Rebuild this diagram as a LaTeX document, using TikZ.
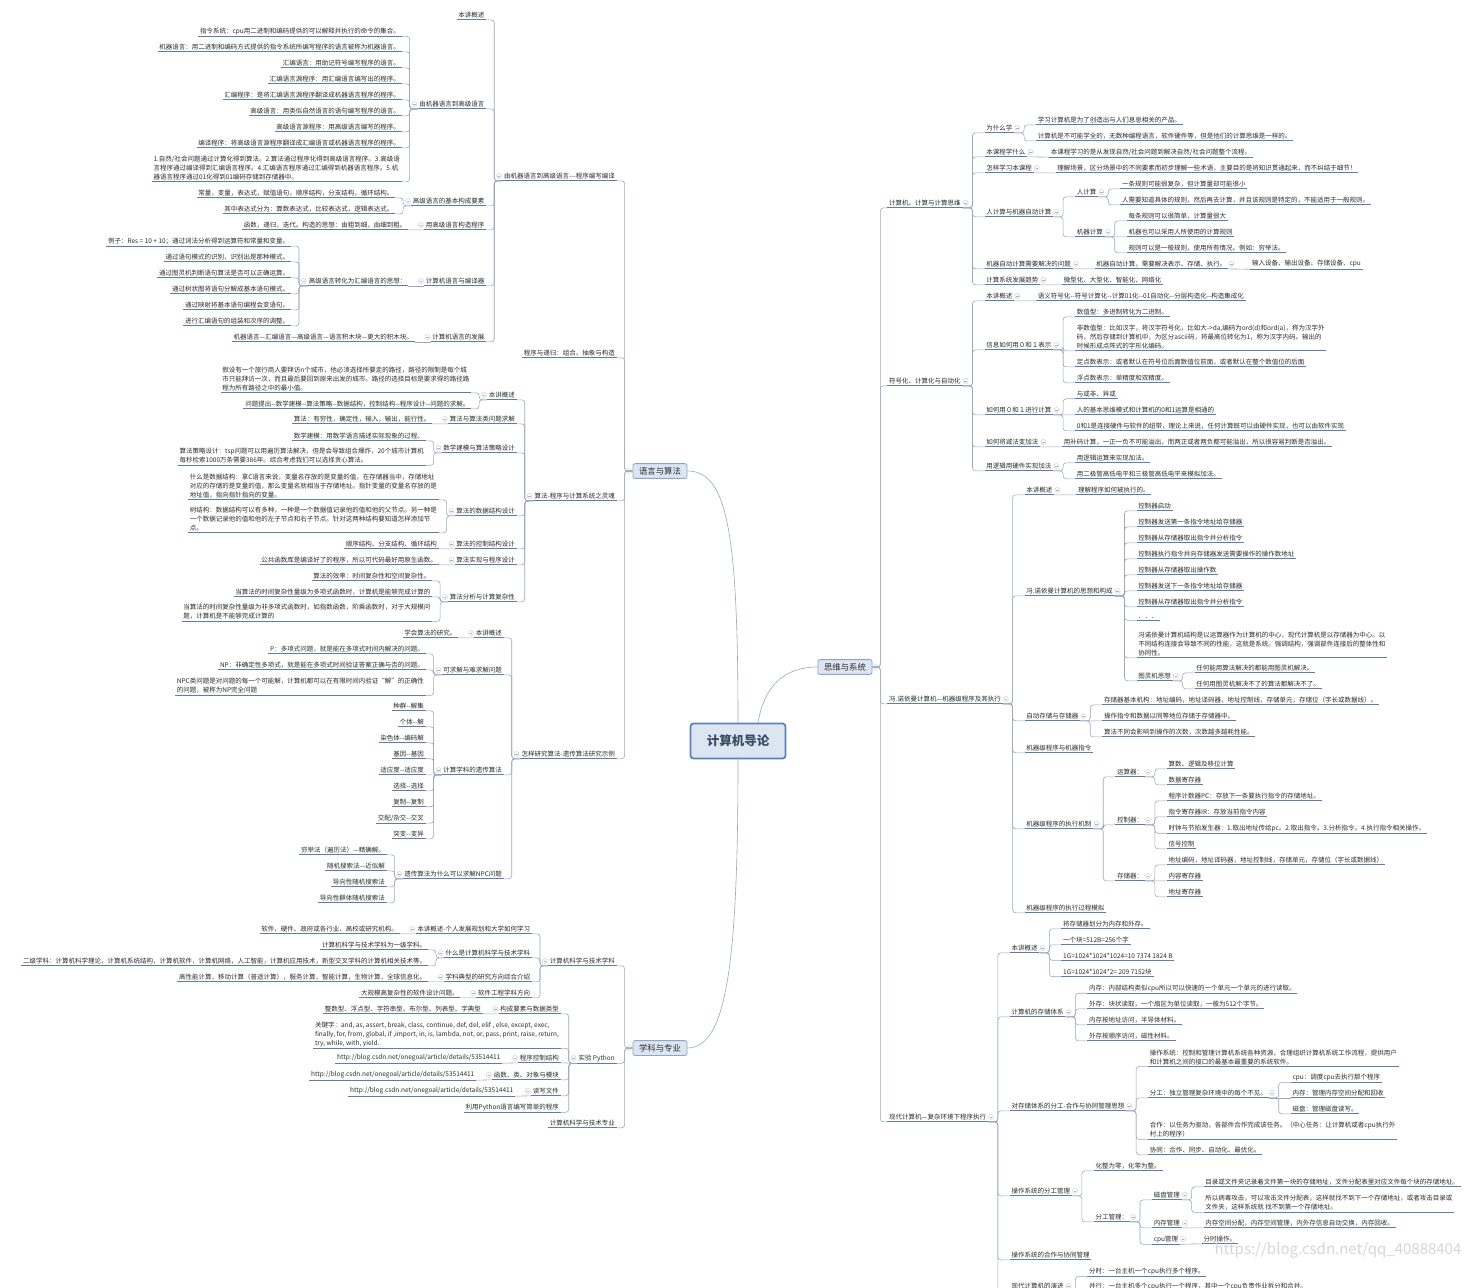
\documentclass[tikz,border=0pt]{standalone}
\usepackage{fontspec}
\newfontfamily\cjk[Ligatures=TeXOff]{Noto Sans CJK SC}
\usetikzlibrary{positioning}

\definecolor{txt}{HTML}{2B2B2B}
\definecolor{ulc}{HTML}{5E7CA8}
\definecolor{brc}{HTML}{9AA8BE}
\definecolor{boxf}{HTML}{DCE6F2}
\definecolor{boxc}{HTML}{8DA5C9}
\definecolor{rootc}{HTML}{5A82B6}
\definecolor{roott}{HTML}{3A4C63}

\tikzset{
  every node/.style={text=txt,font=\cjk\fontsize{6.5}{9}\selectfont},
  ul/.style={draw=ulc,line width=0.9pt},
  lt/.style={anchor=east,inner sep=1.6pt,align=left,
    append after command={(\tikzlastnode.south west) edge[ul] (\tikzlastnode.south east)}},
  rt/.style={anchor=west,inner sep=1.6pt,align=left,
    append after command={(\tikzlastnode.south west) edge[ul] (\tikzlastnode.south east)}},
  br/.style={draw=brc,line width=0.6pt,rounded corners=3pt},
  fold/.style={circle,draw=gray!45,fill=white,minimum size=5pt,inner sep=0pt,label distance=0.5pt,
    path picture={\draw[gray!60,line width=0.4pt]
      ([xshift=1.2pt]path picture bounding box.west) -- ([xshift=-1.2pt]path picture bounding box.east);}},
  foldL/.style={label={[fold]180:}},
  foldR/.style={label={[fold]0:}},
  lvone/.style={draw=boxc,fill=boxf,rounded corners=2pt,line width=0.8pt,
    font=\cjk\fontsize{8.4}{10}\selectfont,inner xsep=6pt,inner ysep=3.5pt},
  rootbox/.style={draw=rootc,fill=boxf,line width=1.8pt,rounded corners=3pt,text=roott,
    font=\cjk\bfseries\fontsize{12.5}{14}\selectfont,minimum width=95pt,minimum height=35pt},
}

\begin{document}
\begin{tikzpicture}[x=1pt,y=-1pt]
\useasboundingbox (0,0) rectangle (1468,1288);
\fill[white] (0,0) rectangle (1468,1288);

% 中心主题
\node[rootbox] (root) at (738,741) {计算机导论};
\node[lvone,foldL] (LA) at (660,471) {语言与算法};
\node[lvone,foldR] (SS) at (845,667) {思维与系统};
\node[lvone,foldL] (XK) at (660,1048) {学科与专业};
\draw[br] (root.north) .. controls +(0,-190) and +(40,0) .. (LA.east);
\draw[br] ([xshift=20pt]root.north) .. controls +(6,-35) and +(-35,0) .. (SS.west);
\draw[br] (root.south) .. controls +(0,200) and +(40,0) .. (XK.east);

% ---------------- 语言与算法 ----------------
\node[lt,foldL] (la1) at ([xshift=-16pt]LA.west |- 0,176) {由机器语言到高级语言---程序编写编译};
\node[lt] (la2) at ([xshift=-16pt]LA.west |- 0,353) {程序与递归：组合、抽象与构造};
\node[lt,foldL] (la3) at ([xshift=-16pt]LA.west |- 0,496) {算法-程序与计算系统之灵魂};
\node[lt,foldL] (la4) at ([xshift=-16pt]LA.west |- 0,754) {怎样研究算法-遗传算法研究示例};
\foreach \c in {la1,la2,la3,la4}
  \draw[br] (LA.west) -- ++(-8pt,0) |- (\c.south east);

\node[lt] (la1a) at ([xshift=-16pt]la1.west |- 0,15) {本讲概述};
\node[lt,foldL] (la1b) at ([xshift=-16pt]la1.west |- 0,104) {由机器语言到高级语言};
\node[lt,foldL] (la1c) at ([xshift=-16pt]la1.west |- 0,201) {高级语言的基本构成要素};
\node[lt,foldL] (la1d) at ([xshift=-16pt]la1.west |- 0,225) {用高级语言构造程序};
\node[lt,foldL] (la1e) at ([xshift=-16pt]la1.west |- 0,281) {计算机语言与编译器};
\node[lt,foldL] (la1f) at ([xshift=-16pt]la1.west |- 0,337) {计算机语言的发展};
\foreach \c in {la1a,la1b,la1c,la1d,la1e,la1f}
  \draw[br] (la1.south west) -- ++(-8pt,0) |- (\c.south east);

\foreach \t [count=\i] in {指令系统：cpu用二进制和编码提供的可以解释并执行的命令的集合。,
    机器语言：用二进制和编码方式提供的指令系统所编写程序的语言被称为机器语言。,
    汇编语言：用助记符号编写程序的语言。,
    汇编语言源程序：用汇编语言编写出的程序。,
    汇编程序：是将汇编语言源程序翻译成机器语言程序的程序。,
    高级语言：用类似自然语言的语句编写程序的语言。,
    高级语言源程序：用高级语言编写的程序。,
    编译程序：将高级语言源程序翻译成汇编语言或机器语言程序的程序。}
  \node[lt] (la1b\i) at ([xshift=-16pt]la1b.west |- 0,{15+16*\i}) {\t};
\node[lt] (la1b9) at ([xshift=-16pt]la1b.west |- 0,168)
  {1.自然/社会问题通过计算化得到算法。2.算法通过程序化得到高级语言程序。3.高级语\\
   言程序通过编译得到汇编语言程序。4.汇编语言程序通过汇编得到机器语言程序。5.机\\
   器语言程序通过01化得到01编码存储到存储器中。};
\foreach \i in {1,...,9}
  \draw[br] (la1b.south west) -- ++(-8pt,0) |- (la1b\i.south east);

\node[lt] (la1c1) at ([xshift=-16pt]la1c.west |- 0,193) {常量，变量，表达式，赋值语句，顺序结构，分支结构，循环结构。};
\node[lt] (la1c2) at ([xshift=-16pt]la1c.west |- 0,209) {其中表达式分为：算数表达式，比较表达式，逻辑表达式。};
\foreach \c in {la1c1,la1c2}
  \draw[br] (la1c.south west) -- ++(-8pt,0) |- (\c.south east);
\node[lt] (la1d1) at ([xshift=-16pt]la1d.west |- 0,225) {函数，递归，迭代。构造的思想：由粗到细，由细到粗。};
\node[lt,foldL] (la1e1) at ([xshift=-16pt]la1e.west |- 0,281) {高级语言转化为汇编语言的思想：};
\foreach \t [count=\i] in {例子：Res = 10 + 10；通过词法分析得到运算符和常量和变量。,
    通过语句模式的识别，识别出是那种模式。,
    通过图灵机判断语句算法是否可以正确运算。,
    通过树状图将语句分解成基本语句模式。,
    通过映射将基本语句编程会变语句。,
    进行汇编语句的组装和次序的调整。}
  \node[lt] (la1e1\i) at ([xshift=-16pt]la1e1.west |- 0,{225+16*\i}) {\t};
\foreach \i in {1,...,6}
  \draw[br] (la1e1.south west) -- ++(-8pt,0) |- (la1e1\i.south east);
\node[lt] (la1f1) at ([xshift=-16pt]la1f.west |- 0,337) {机器语言—汇编语言—高级语言—语言积木块—更大的积木块。};

% 算法-程序与计算系统之灵魂
\node[lt,foldL] (la3a) at ([xshift=-16pt]la3.west |- 0,395) {本讲概述};
\node[lt,foldL] (la3b) at ([xshift=-16pt]la3.west |- 0,419) {算法与算法类问题求解};
\node[lt,foldL] (la3c) at ([xshift=-16pt]la3.west |- 0,448) {数学建模与算法策略设计};
\node[lt,foldL] (la3d) at ([xshift=-16pt]la3.west |- 0,511) {算法的数据结构设计};
\node[lt,foldL] (la3e) at ([xshift=-16pt]la3.west |- 0,544) {算法的控制结构设计};
\node[lt,foldL] (la3f) at ([xshift=-16pt]la3.west |- 0,560) {算法实现与程序设计};
\node[lt,foldL] (la3g) at ([xshift=-16pt]la3.west |- 0,597) {算法分析与计算复杂性};
\foreach \c in {la3a,la3b,la3c,la3d,la3e,la3f,la3g}
  \draw[br] (la3.south west) -- ++(-8pt,0) |- (\c.south east);

\node[lt] (la3a1) at ([xshift=-16pt]la3a.west |- 0,379)
  {假设有一个旅行商人要拜访n个城市，他必须选择所要走的路径，路径的限制是每个城\\
   市只能拜访一次，而且最后要回到原来出发的城市。路径的选择目标是要求得的路径路\\
   程为所有路径之中的最小值。};
\node[lt] (la3a2) at ([xshift=-16pt]la3a.west |- 0,404) {问题提出--数学建模--算法策略--数据结构，控制结构--程序设计--问题的求解。};
\node[lt] (la3b1) at ([xshift=-16pt]la3b.west |- 0,419) {算法：有穷性，确定性，输入，输出，能行性。};
\node[lt] (la3c1) at ([xshift=-16pt]la3c.west |- 0,436) {数学建模：用数学语言描述实际现象的过程。};
\node[lt] (la3c2) at ([xshift=-16pt]la3c.west |- 0,456)
  {算法策略设计：tsp问题可以用遍历算法解决，但是会导致组合爆炸，20个城市计算机\\
   每秒检索1000万条需要386年。综合考虑我们可以选择贪心算法。};
\node[lt] (la3d1) at ([xshift=-16pt]la3d.west |- 0,486)
  {什么是数据结构：拿C语言来说，变量名存放的是变量的值，在存储器当中，存储地址\\
   对应的存储的是变量的值，那么变量名就相当于存储地址。指针变量的变量名存放的是\\
   地址值，指向指针指向的变量。};
\node[lt] (la3d2) at ([xshift=-16pt]la3d.west |- 0,519)
  {树结构：数据结构可以有多种，一种是一个数据值记录他的值和他的父节点。另一种是\\
   一个数据记录他的值和他的左子节点和右子节点。针对这两种结构要知道怎样添加节\\
   点。};
\node[lt] (la3e1) at ([xshift=-16pt]la3e.west |- 0,544) {顺序结构、分支结构、循环结构};
\node[lt] (la3f1) at ([xshift=-16pt]la3f.west |- 0,560) {公共函数库是编译好了的程序，所以可代码最好用原生函数。};
\node[lt] (la3g1) at ([xshift=-16pt]la3g.west |- 0,576) {算法的效率：时间复杂性和空间复杂性。};
\node[lt] (la3g2) at ([xshift=-16pt]la3g.west |- 0,592) {当算法的时间复杂性量级为多项式函数时，计算机是能够完成计算的};
\node[lt] (la3g3) at ([xshift=-16pt]la3g.west |- 0,612)
  {当算法的时间复杂性量级为非多项式函数时，如指数函数，阶乘函数时，对于大规模问\\
   题，计算机是不能够完成计算的};
\foreach \p/\c in {la3a/la3a1,la3a/la3a2,la3c/la3c1,la3c/la3c2,la3d/la3d1,la3d/la3d2,
    la3g/la3g1,la3g/la3g2,la3g/la3g3}
  \draw[br] (\p.south west) -- ++(-8pt,0) |- (\c.south east);

% 怎样研究算法
\node[lt,foldL] (la4a) at ([xshift=-16pt]la4.west |- 0,633) {本讲概述};
\node[lt,foldL] (la4b) at ([xshift=-16pt]la4.west |- 0,670) {可求解与难求解问题};
\node[lt,foldL] (la4c) at ([xshift=-16pt]la4.west |- 0,770) {计算学科的遗传算法};
\node[lt,foldL] (la4d) at ([xshift=-16pt]la4.west |- 0,874) {遗传算法为什么可以求解NPC问题};
\foreach \c in {la4a,la4b,la4c,la4d}
  \draw[br] (la4.south west) -- ++(-8pt,0) |- (\c.south east);
\node[lt] (la4a1) at ([xshift=-16pt]la4a.west |- 0,633) {学会算法的研究。};
\node[lt] (la4b1) at ([xshift=-16pt]la4b.west |- 0,649) {P：多项式问题，就是能在多项式时间内解决的问题。};
\node[lt] (la4b2) at ([xshift=-16pt]la4b.west |- 0,665) {NP：非确定性多项式，就是能在多项式时间验证答案正确与否的问题。};
\node[lt] (la4b3) at ([xshift=-16pt]la4b.west |- 0,686)
  {NPC类问题是对问题的每一个可能解，计算机都可以在有限时间内验证“解”的正确性\\
   的问题，被称为NP完全问题};
\foreach \c in {la4b1,la4b2,la4b3}
  \draw[br] (la4b.south west) -- ++(-8pt,0) |- (\c.south east);
\foreach \t [count=\i] in {种群--解集,个体--解,染色体--编码解,基因--基因,适应度--适应度,
    选择--选择,复制--复制,交配/杂交--交叉,突变--变异}
  \node[lt] (la4c\i) at ([xshift=-16pt]la4c.west |- 0,{690+16*\i}) {\t};
\foreach \i in {1,2,3,4,6,7,8,9}
  \draw[br] (la4c.south west) -- ++(-8pt,0) |- (la4c\i.south east);
\foreach \t [count=\i] in {穷举法（遍历法）—精确解。,随机搜索法—近似解,导向性随机搜索法,导向性群体随机搜索法}
  \node[lt] (la4d\i) at ([xshift=-16pt]la4d.west |- 0,{834+16*\i}) {\t};
\foreach \i in {1,...,4}
  \draw[br] (la4d.south west) -- ++(-8pt,0) |- (la4d\i.south east);

% ---------------- 学科与专业 ----------------
\node[lt,foldL] (xk1) at ([xshift=-16pt]XK.west |- 0,961) {计算机科学与技术学科};
\node[lt,foldL] (xk2) at ([xshift=-16pt]XK.west |- 0,1058) {实验 Python};
\node[lt] (xk3) at ([xshift=-16pt]XK.west |- 0,1123) {计算机科学与技术专业};
\foreach \c in {xk1,xk2,xk3}
  \draw[br] (XK.west) -- ++(-8pt,0) |- (\c.south east);

\node[lt,foldL] (xk1a) at ([xshift=-16pt]xk1.west |- 0,929) {本讲概述-个人发展规划和大学如何学习};
\node[lt,foldL] (xk1b) at ([xshift=-16pt]xk1.west |- 0,953) {什么是计算机科学与技术学科};
\node[lt,foldL] (xk1c) at ([xshift=-16pt]xk1.west |- 0,977) {学科典型的研究方向综合介绍};
\node[lt,foldL] (xk1d) at ([xshift=-16pt]xk1.west |- 0,993) {软件工程学科方向};
\foreach \c in {xk1a,xk1b,xk1c,xk1d}
  \draw[br] (xk1.south west) -- ++(-8pt,0) |- (\c.south east);
\node[lt] (xk1a1) at ([xshift=-16pt]xk1a.west |- 0,929) {软件、硬件、政府或各行业、高校或研究机构。};
\node[lt] (xk1b1) at ([xshift=-16pt]xk1b.west |- 0,945) {计算机科学与技术学科为一级学科。};
\node[lt] (xk1b2) at ([xshift=-16pt]xk1b.west |- 0,961) {二级学科：计算机科学理论，计算机系统结构，计算机软件，计算机网络，人工智能，计算机应用技术，新型交叉学科的计算机相关技术等。};
\foreach \c in {xk1b1,xk1b2}
  \draw[br] (xk1b.south west) -- ++(-8pt,0) |- (\c.south east);
\node[lt] (xk1c1) at ([xshift=-16pt]xk1c.west |- 0,977) {高性能计算，移动计算（普适计算），服务计算，智能计算，生物计算，全球信息化。};
\node[lt] (xk1d1) at ([xshift=-16pt]xk1d.west |- 0,993) {大规模高复杂性的软件设计问题。};

\node[lt,foldL] (xk2a) at ([xshift=-16pt]xk2.west |- 0,1009) {构成要素与数据类型};
\node[lt] (xk2b) at ([xshift=-16pt]xk2.west |- 0,1034)
  {关键字：and, as, assert, break, class, continue, def, del, elif , else, except, exec,\\
   finally, for, from, global, if ,import, in, is, lambda, not, or, pass, print, raise, return,\\
   try, while, with, yield.};
\node[lt,foldL] (xk2c) at ([xshift=-16pt]xk2.west |- 0,1058) {程序控制结构};
\node[lt,foldL] (xk2d) at ([xshift=-16pt]xk2.west |- 0,1075) {函数、类、对象与模块};
\node[lt,foldL] (xk2e) at ([xshift=-16pt]xk2.west |- 0,1091) {读写文件};
\node[lt] (xk2f) at ([xshift=-16pt]xk2.west |- 0,1107) {利用Python语言编写简单的程序};
\foreach \c in {xk2a,xk2b,xk2d,xk2e,xk2f}
  \draw[br] (xk2.south west) -- ++(-8pt,0) |- (\c.south east);
\node[lt] (xk2a1) at ([xshift=-16pt]xk2a.west |- 0,1009) {整数型、浮点型、字符串型、布尔型、列表型、字典型};
\node[lt] (xk2c1) at ([xshift=-16pt]xk2c.west |- 0,1058) {http://blog.csdn.net/onegoal/article/details/53514411};
\node[lt] (xk2d1) at ([xshift=-16pt]xk2d.west |- 0,1075) {http://blog.csdn.net/onegoal/article/details/53514411};
\node[lt] (xk2e1) at ([xshift=-16pt]xk2e.west |- 0,1091) {http://blog.csdn.net/onegoal/article/details/53514411};

% 左侧同一高度的直连
\foreach \p/\c in {la1d/la1d1,la1e/la1e1,la1f/la1f1,la3b/la3b1,la3e/la3e1,la3f/la3f1,la4a/la4a1,
    la4c/la4c5,xk1a/xk1a1,xk1c/xk1c1,xk1d/xk1d1,xk2/xk2c,xk2a/xk2a1,xk2c/xk2c1,xk2d/xk2d1,xk2e/xk2e1}
  \draw[br] (\p.south west) -- (\c.south east);

% ---------------- 思维与系统 ----------------
\node[rt,foldR] (ss1) at ([xshift=15pt]SS.east |- 0,203) {计算机、计算与计算思维};
\node[rt,foldR] (ss2) at ([xshift=15pt]SS.east |- 0,381) {符号化、计算化与自动化};
\node[rt,foldR] (ss3) at ([xshift=15pt]SS.east |- 0,699) {冯.诺依曼计算机—机器级程序及其执行};
\node[rt,foldR] (ss4) at ([xshift=15pt]SS.east |- 0,1117) {现代计算机—复杂环境下程序执行};
\foreach \c in {ss1,ss2,ss3,ss4}
  \draw[br] (SS.east) -- ++(8pt,0) |- (\c.south west);

% 计算机、计算与计算思维
\node[rt,foldR] (ss1a) at ([xshift=22pt]ss1.east |- 0,128) {为什么学};
\node[rt,foldR] (ss1b) at ([xshift=22pt]ss1.east |- 0,152) {本课程学什么};
\node[rt,foldR] (ss1c) at ([xshift=22pt]ss1.east |- 0,168) {怎样学习本课程};
\node[rt,foldR] (ss1d) at ([xshift=22pt]ss1.east |- 0,212) {人计算与机器自动计算};
\node[rt,foldR] (ss1e) at ([xshift=22pt]ss1.east |- 0,264) {机器自动计算需要解决的问题};
\node[rt,foldR] (ss1f) at ([xshift=22pt]ss1.east |- 0,280) {计算系统发展趋势};
\foreach \c in {ss1a,ss1b,ss1c,ss1d,ss1e,ss1f}
  \draw[br] (ss1.south east) -- ++(10pt,0) |- (\c.south west);
\node[rt] (ss1a1) at ([xshift=22pt]ss1a.east |- 0,120) {学习计算机是为了创造出与人们息息相关的产品。};
\node[rt] (ss1a2) at ([xshift=22pt]ss1a.east |- 0,136) {计算机是不可能学全的，无数种编程语言，软件硬件等，但是他们的计算思维是一样的。};
\node[rt] (ss1b1) at ([xshift=22pt]ss1b.east |- 0,152) {本课程学习的是从发现自然/社会问题到解决自然/社会问题整个流程。};
\node[rt] (ss1c1) at ([xshift=22pt]ss1c.east |- 0,168) {理解场景，区分场景中的不同要素而初步理解一些术语，主要目的是将知识贯通起来，而不纠结于细节！};
\node[rt,foldR] (ss1d1) at ([xshift=22pt]ss1d.east |- 0,192) {人计算};
\node[rt,foldR] (ss1d2) at ([xshift=22pt]ss1d.east |- 0,232) {机器计算};
\node[rt] (ss1d1a) at ([xshift=22pt]ss1d1.east |- 0,184) {一条规则可能很复杂，但计算量却可能很小};
\node[rt] (ss1d1b) at ([xshift=22pt]ss1d1.east |- 0,200) {人需要知道具体的规则，然后再去计算，并且该规则是特定的，不能适用于一般规则。};
\node[rt] (ss1d2a) at ([xshift=22pt]ss1d2.east |- 0,216) {每条规则可以很简单，计算量很大};
\node[rt] (ss1d2b) at ([xshift=22pt]ss1d2.east |- 0,232) {机器也可以采用人所使用的计算规则};
\node[rt] (ss1d2c) at ([xshift=22pt]ss1d2.east |- 0,248) {规则可以是一般规则，使用所有情况。例如：穷举法。};
\node[rt,foldR] (ss1e1) at ([xshift=22pt]ss1e.east |- 0,264) {机器自动计算，需要解决表示、存储、执行。};
\node[rt] (ss1e1a) at ([xshift=22pt]ss1e1.east |- 0,264) {输入设备、输出设备、存储设备、cpu};
\node[rt] (ss1f1) at ([xshift=22pt]ss1f.east |- 0,280) {微型化、大型化、智能化、网络化};
\foreach \p/\c in {ss1a/ss1a1,ss1a/ss1a2,ss1d/ss1d1,ss1d/ss1d2,ss1d1/ss1d1a,ss1d1/ss1d1b,
    ss1d2/ss1d2a,ss1d2/ss1d2c}
  \draw[br] (\p.south east) -- ++(10pt,0) |- (\c.south west);

% 符号化、计算化与自动化
\node[rt,foldR] (ss2a) at ([xshift=22pt]ss2.east |- 0,296) {本讲概述};
\node[rt,foldR] (ss2b) at ([xshift=22pt]ss2.east |- 0,345) {信息如何用０和１表示};
\node[rt,foldR] (ss2c) at ([xshift=22pt]ss2.east |- 0,410) {如何用０和１进行计算};
\node[rt,foldR] (ss2d) at ([xshift=22pt]ss2.east |- 0,442) {如何将减法变加法};
\node[rt,foldR] (ss2e) at ([xshift=22pt]ss2.east |- 0,466) {用逻辑用硬件实现加法};
\foreach \c in {ss2a,ss2b,ss2c,ss2d,ss2e}
  \draw[br] (ss2.south east) -- ++(10pt,0) |- (\c.south west);
\node[rt] (ss2a1) at ([xshift=22pt]ss2a.east |- 0,296) {语义符号化--符号计算化--计算01化--01自动化--分层构造化--构造集成化};
\node[rt] (ss2b1) at ([xshift=22pt]ss2b.east |- 0,312) {数值型：多进制转化为二进制。};
\node[rt] (ss2b2) at ([xshift=22pt]ss2b.east |- 0,337)
  {非数值型：比如汉字，将汉字符号化，比如大->da,编码为ord(d)和ord(a)，称为汉字外\\
   码，然后存储到计算机中，为区分ascii码，将最高位转化为1，称为汉字内码。输出的\\
   时候形成点阵式的字形化编码。};
\node[rt] (ss2b3) at ([xshift=22pt]ss2b.east |- 0,362) {定点数表示：或者默认在符号位后面数值位前面，或者默认在整个数值位的后面};
\node[rt] (ss2b4) at ([xshift=22pt]ss2b.east |- 0,378) {浮点数表示：单精度和双精度。};
\node[rt] (ss2c1) at ([xshift=22pt]ss2c.east |- 0,394) {与或非、异或};
\node[rt] (ss2c2) at ([xshift=22pt]ss2c.east |- 0,410) {人的基本思维模式和计算机的0和1运算是相通的};
\node[rt] (ss2c3) at ([xshift=22pt]ss2c.east |- 0,426) {0和1是连接硬件与软件的纽带，理论上来说，任何计算既可以由硬件实现，也可以由软件实现};
\node[rt] (ss2d1) at ([xshift=22pt]ss2d.east |- 0,442) {用补码计算，一正一负不可能溢出，而两正或者两负都可能溢出，所以很容易判断是否溢出。};
\node[rt] (ss2e1) at ([xshift=22pt]ss2e.east |- 0,458) {用逻辑运算来实现加法。};
\node[rt] (ss2e2) at ([xshift=22pt]ss2e.east |- 0,474) {用二极管高低电平和三极管高低电平来模拟加法。};
\foreach \p/\c in {ss2b/ss2b1,ss2b/ss2b2,ss2b/ss2b3,ss2b/ss2b4,ss2c/ss2c1,ss2c/ss2c3,
    ss2e/ss2e1,ss2e/ss2e2}
  \draw[br] (\p.south east) -- ++(10pt,0) |- (\c.south west);

% 冯.诺依曼计算机
\node[rt,foldR] (ss3a) at ([xshift=22pt]ss3.east |- 0,490) {本讲概述};
\node[rt,foldR] (ss3b) at ([xshift=22pt]ss3.east |- 0,591) {冯.诺依曼计算机的思想和构成};
\node[rt,foldR] (ss3c) at ([xshift=22pt]ss3.east |- 0,716) {自动存储与存储器};
\node[rt] (ss3d) at ([xshift=22pt]ss3.east |- 0,748) {机器级程序与机器指令};
\node[rt,foldR] (ss3e) at ([xshift=22pt]ss3.east |- 0,824) {机器级程序的执行机制};
\node[rt] (ss3f) at ([xshift=22pt]ss3.east |- 0,908) {机器级程序的执行过程模拟};
\foreach \c in {ss3a,ss3b,ss3c,ss3d,ss3e,ss3f}
  \draw[br] (ss3.south east) -- ++(10pt,0) |- (\c.south west);
\node[rt] (ss3a1) at ([xshift=22pt]ss3a.east |- 0,490) {理解程序如何被执行的。};
\foreach \t [count=\i] in {控制器启动,控制器发送第一条指令地址给存储器,控制器从存储器取出指令并分析指令,
    控制器执行指令并向存储器发送需要操作的操作数地址,控制器从存储器取出操作数,
    控制器发送下一条指令地址给存储器,控制器从存储器取出指令并分析指令,．．．}
  \node[rt] (ss3b\i) at ([xshift=22pt]ss3b.east |- 0,{490+16*\i}) {\t};
\node[rt] (ss3b9) at ([xshift=22pt]ss3b.east |- 0,644)
  {冯诺依曼计算机结构是以运算器作为计算机的中心，现代计算机是以存储器为中心。以\\
   不同结构连接会导致不同的性能，这就是系统。强调结构，强调部件连接后的整体性和\\
   协同性。};
\node[rt,foldR] (ss3b10) at ([xshift=22pt]ss3b.east |- 0,676) {图灵机思想};
\foreach \i in {1,...,10}
  \draw[br] (ss3b.south east) -- ++(10pt,0) |- (ss3b\i.south west);
\node[rt] (ss3b10a) at ([xshift=22pt]ss3b10.east |- 0,668) {任何能用算法解决的都能用图灵机解决。};
\node[rt] (ss3b10b) at ([xshift=22pt]ss3b10.east |- 0,684) {任何用图灵机解决不了的算法都解决不了。};
\node[rt] (ss3c1) at ([xshift=22pt]ss3c.east |- 0,700) {存储器基本机构：地址编码，地址译码器，地址控制线，存储单元，存储位（字长或数据线）。};
\node[rt] (ss3c2) at ([xshift=22pt]ss3c.east |- 0,716) {操作指令和数据以同等地位存储于存储器中。};
\node[rt] (ss3c3) at ([xshift=22pt]ss3c.east |- 0,732) {算法不同会影响到操作的次数，次数越多越耗性能。};
\node[rt,foldR] (ss3e1) at ([xshift=22pt]ss3e.east |- 0,772) {运算器：};
\node[rt,foldR] (ss3e2) at ([xshift=22pt]ss3e.east |- 0,820) {控制器：};
\node[rt,foldR] (ss3e3) at ([xshift=22pt]ss3e.east |- 0,876) {存储器：};
\node[rt] (ss3e1a) at ([xshift=22pt]ss3e1.east |- 0,764) {算数、逻辑及移位计算};
\node[rt] (ss3e1b) at ([xshift=22pt]ss3e1.east |- 0,780) {数据寄存器};
\node[rt] (ss3e2a) at ([xshift=22pt]ss3e2.east |- 0,796) {程序计数器PC：存放下一条要执行指令的存储地址。};
\node[rt] (ss3e2b) at ([xshift=22pt]ss3e2.east |- 0,812) {指令寄存器IR：存放当前指令内容};
\node[rt] (ss3e2c) at ([xshift=22pt]ss3e2.east |- 0,828) {时钟与节拍发生器：1.取出地址传给pc。2.取出指令。3.分析指令。4.执行指令相关操作。};
\node[rt] (ss3e2d) at ([xshift=22pt]ss3e2.east |- 0,844) {信号控制};
\node[rt] (ss3e3a) at ([xshift=22pt]ss3e3.east |- 0,860) {地址编码，地址译码器，地址控制线，存储单元，存储位（字长或数据线）};
\node[rt] (ss3e3b) at ([xshift=22pt]ss3e3.east |- 0,876) {内容寄存器};
\node[rt] (ss3e3c) at ([xshift=22pt]ss3e3.east |- 0,892) {地址寄存器};
\foreach \p/\c in {ss3b10/ss3b10a,ss3b10/ss3b10b,ss3c/ss3c1,ss3c/ss3c3,ss3e/ss3e1,ss3e/ss3e2,ss3e/ss3e3,
    ss3e1/ss3e1a,ss3e1/ss3e1b,ss3e2/ss3e2a,ss3e2/ss3e2b,ss3e2/ss3e2c,ss3e2/ss3e2d,ss3e3/ss3e3a,ss3e3/ss3e3c}
  \draw[br] (\p.south east) -- ++(10pt,0) |- (\c.south west);

% 现代计算机
\node[rt,foldR] (ss4a) at ([xshift=22pt]ss4.east |- 0,948) {本讲概述};
\node[rt,foldR] (ss4b) at ([xshift=22pt]ss4.east |- 0,1012) {计算机的存储体系};
\node[rt,foldR] (ss4c) at ([xshift=22pt]ss4.east |- 0,1106) {对存储体系的分工-合作与协同管理思想};
\node[rt,foldR] (ss4d) at ([xshift=22pt]ss4.east |- 0,1191) {操作系统的分工管理};
\node[rt] (ss4e) at ([xshift=22pt]ss4.east |- 0,1255) {操作系统的合作与协同管理};
\node[rt,foldR] (ss4f) at ([xshift=22pt]ss4.east |- 0,1286) {现代计算机的演进};
\foreach \c in {ss4a,ss4b,ss4c,ss4d,ss4e,ss4f}
  \draw[br] (ss4.south east) -- ++(10pt,0) |- (\c.south west);
\foreach \t [count=\i] in {将存储器划分为内存和外存。,一个块=512B=256个字,
    1G=1024*1024*1024=10 7374 1824 B,1G=1024*1024*2= 209 7152块}
  \node[rt] (ss4a\i) at ([xshift=22pt]ss4a.east |- 0,{908+16*\i}) {\t};
\foreach \t [count=\i] in {内存：内部结构类似cpu所以可以快速的一个单元一个单元的进行读取。,
    外存：块状读取，一个扇区为单位读取，一般为512个字节。,
    内存按地址访问，半导体材料。,外存按顺序访问，磁性材料。}
  \node[rt] (ss4b\i) at ([xshift=22pt]ss4b.east |- 0,{972+16*\i}) {\t};
\foreach \i in {1,...,4} {
  \draw[br] (ss4a.south east) -- ++(10pt,0) |- (ss4a\i.south west);
  \draw[br] (ss4b.south east) -- ++(10pt,0) |- (ss4b\i.south west);
}
\node[rt] (ss4c1) at ([xshift=22pt]ss4c.east |- 0,1057)
  {操作系统：控制和管理计算机系统各种资源，合理组织计算机系统工作流程，提供用户\\
   和计算机之间的接口的最基本最重要的系统软件。};
\node[rt,foldR] (ss4c2) at ([xshift=22pt]ss4c.east |- 0,1093) {分工：独立管理复杂环境中的每个不见。};
\node[rt] (ss4c3) at ([xshift=22pt]ss4c.east |- 0,1130)
  {合作：以任务为驱动，各部件合作完成该任务。（中心任务：让计算机或者cpu执行外\\
   村上的程序）};
\node[rt] (ss4c4) at ([xshift=22pt]ss4c.east |- 0,1150) {协同：合作、同步、自动化、最优化。};
\node[rt] (ss4c2a) at ([xshift=22pt]ss4c2.east |- 0,1077) {cpu：调度cpu去执行那个程序};
\node[rt] (ss4c2b) at ([xshift=22pt]ss4c2.east |- 0,1093) {内存：管理内存空间分配和回收};
\node[rt] (ss4c2c) at ([xshift=22pt]ss4c2.east |- 0,1109) {磁盘：管理磁盘读写。};
\node[rt] (ss4d1) at ([xshift=22pt]ss4d.east |- 0,1166) {化整为零，化零为整。};
\node[rt,foldR] (ss4d2) at ([xshift=22pt]ss4d.east |- 0,1217) {分工管理：};
\node[rt,foldR] (ss4d2a) at ([xshift=22pt]ss4d2.east |- 0,1195) {磁盘管理};
\node[rt,foldR] (ss4d2b) at ([xshift=22pt]ss4d2.east |- 0,1223) {内存管理};
\node[rt,foldR] (ss4d2c) at ([xshift=22pt]ss4d2.east |- 0,1239) {cpu管理};
\node[rt] (ss4d2a1) at ([xshift=22pt]ss4d2a.east |- 0,1182) {目录或文件夹记录着文件第一块的存储地址，文件分配表里对应文件每个块的存储地址。};
\node[rt] (ss4d2a2) at ([xshift=22pt]ss4d2a.east |- 0,1203)
  {所以病毒攻击，可以攻击文件分配表，这样就找不到下一个存储地址，或者攻击目录或\\
   文件夹，这样系统就 找不到第一个存储地址。};
\node[rt] (ss4d2b1) at ([xshift=22pt]ss4d2b.east |- 0,1223) {内存空间分配，内存空间管理，内外存信息自动交换，内存回收。};
\node[rt] (ss4d2c1) at ([xshift=22pt]ss4d2c.east |- 0,1239) {分时操作。};
\node[rt] (ss4f1) at ([xshift=22pt]ss4f.east |- 0,1271) {分时：一台主机一个cpu执行多个程序。};
\node[rt] (ss4f2) at ([xshift=22pt]ss4f.east |- 0,1286) {并行：一台主机多个cpu执行一个程序，其中一个cpu负责作业拆分和合并。};
\foreach \p/\c in {ss4c/ss4c1,ss4c/ss4c2,ss4c/ss4c3,ss4c/ss4c4,ss4c2/ss4c2a,ss4c2/ss4c2c,
    ss4d/ss4d1,ss4d/ss4d2,ss4d2/ss4d2a,ss4d2/ss4d2b,ss4d2/ss4d2c,ss4d2a/ss4d2a1,ss4d2a/ss4d2a2,ss4f/ss4f1}
  \draw[br] (\p.south east) -- ++(10pt,0) |- (\c.south west);

% 右侧同一高度的直连
\foreach \p/\c in {ss1b/ss1b1,ss1c/ss1c1,ss1d2/ss1d2b,ss1e/ss1e1,ss1e1/ss1e1a,ss1f/ss1f1,ss2a/ss2a1,
    ss2c/ss2c2,ss2d/ss2d1,ss3a/ss3a1,ss3c/ss3c2,ss3e3/ss3e3b,ss4c2/ss4c2b,ss4d2b/ss4d2b1,
    ss4d2c/ss4d2c1,ss4f/ss4f2}
  \draw[br] (\p.south east) -- (\c.south west);

% 水印
\node[text=black!16,font=\cjk\fontsize{15}{15}\selectfont] (wm) at (1338,1250) {https://blog.csdn.net/qq\_40888404};
\end{tikzpicture}
\end{document}
